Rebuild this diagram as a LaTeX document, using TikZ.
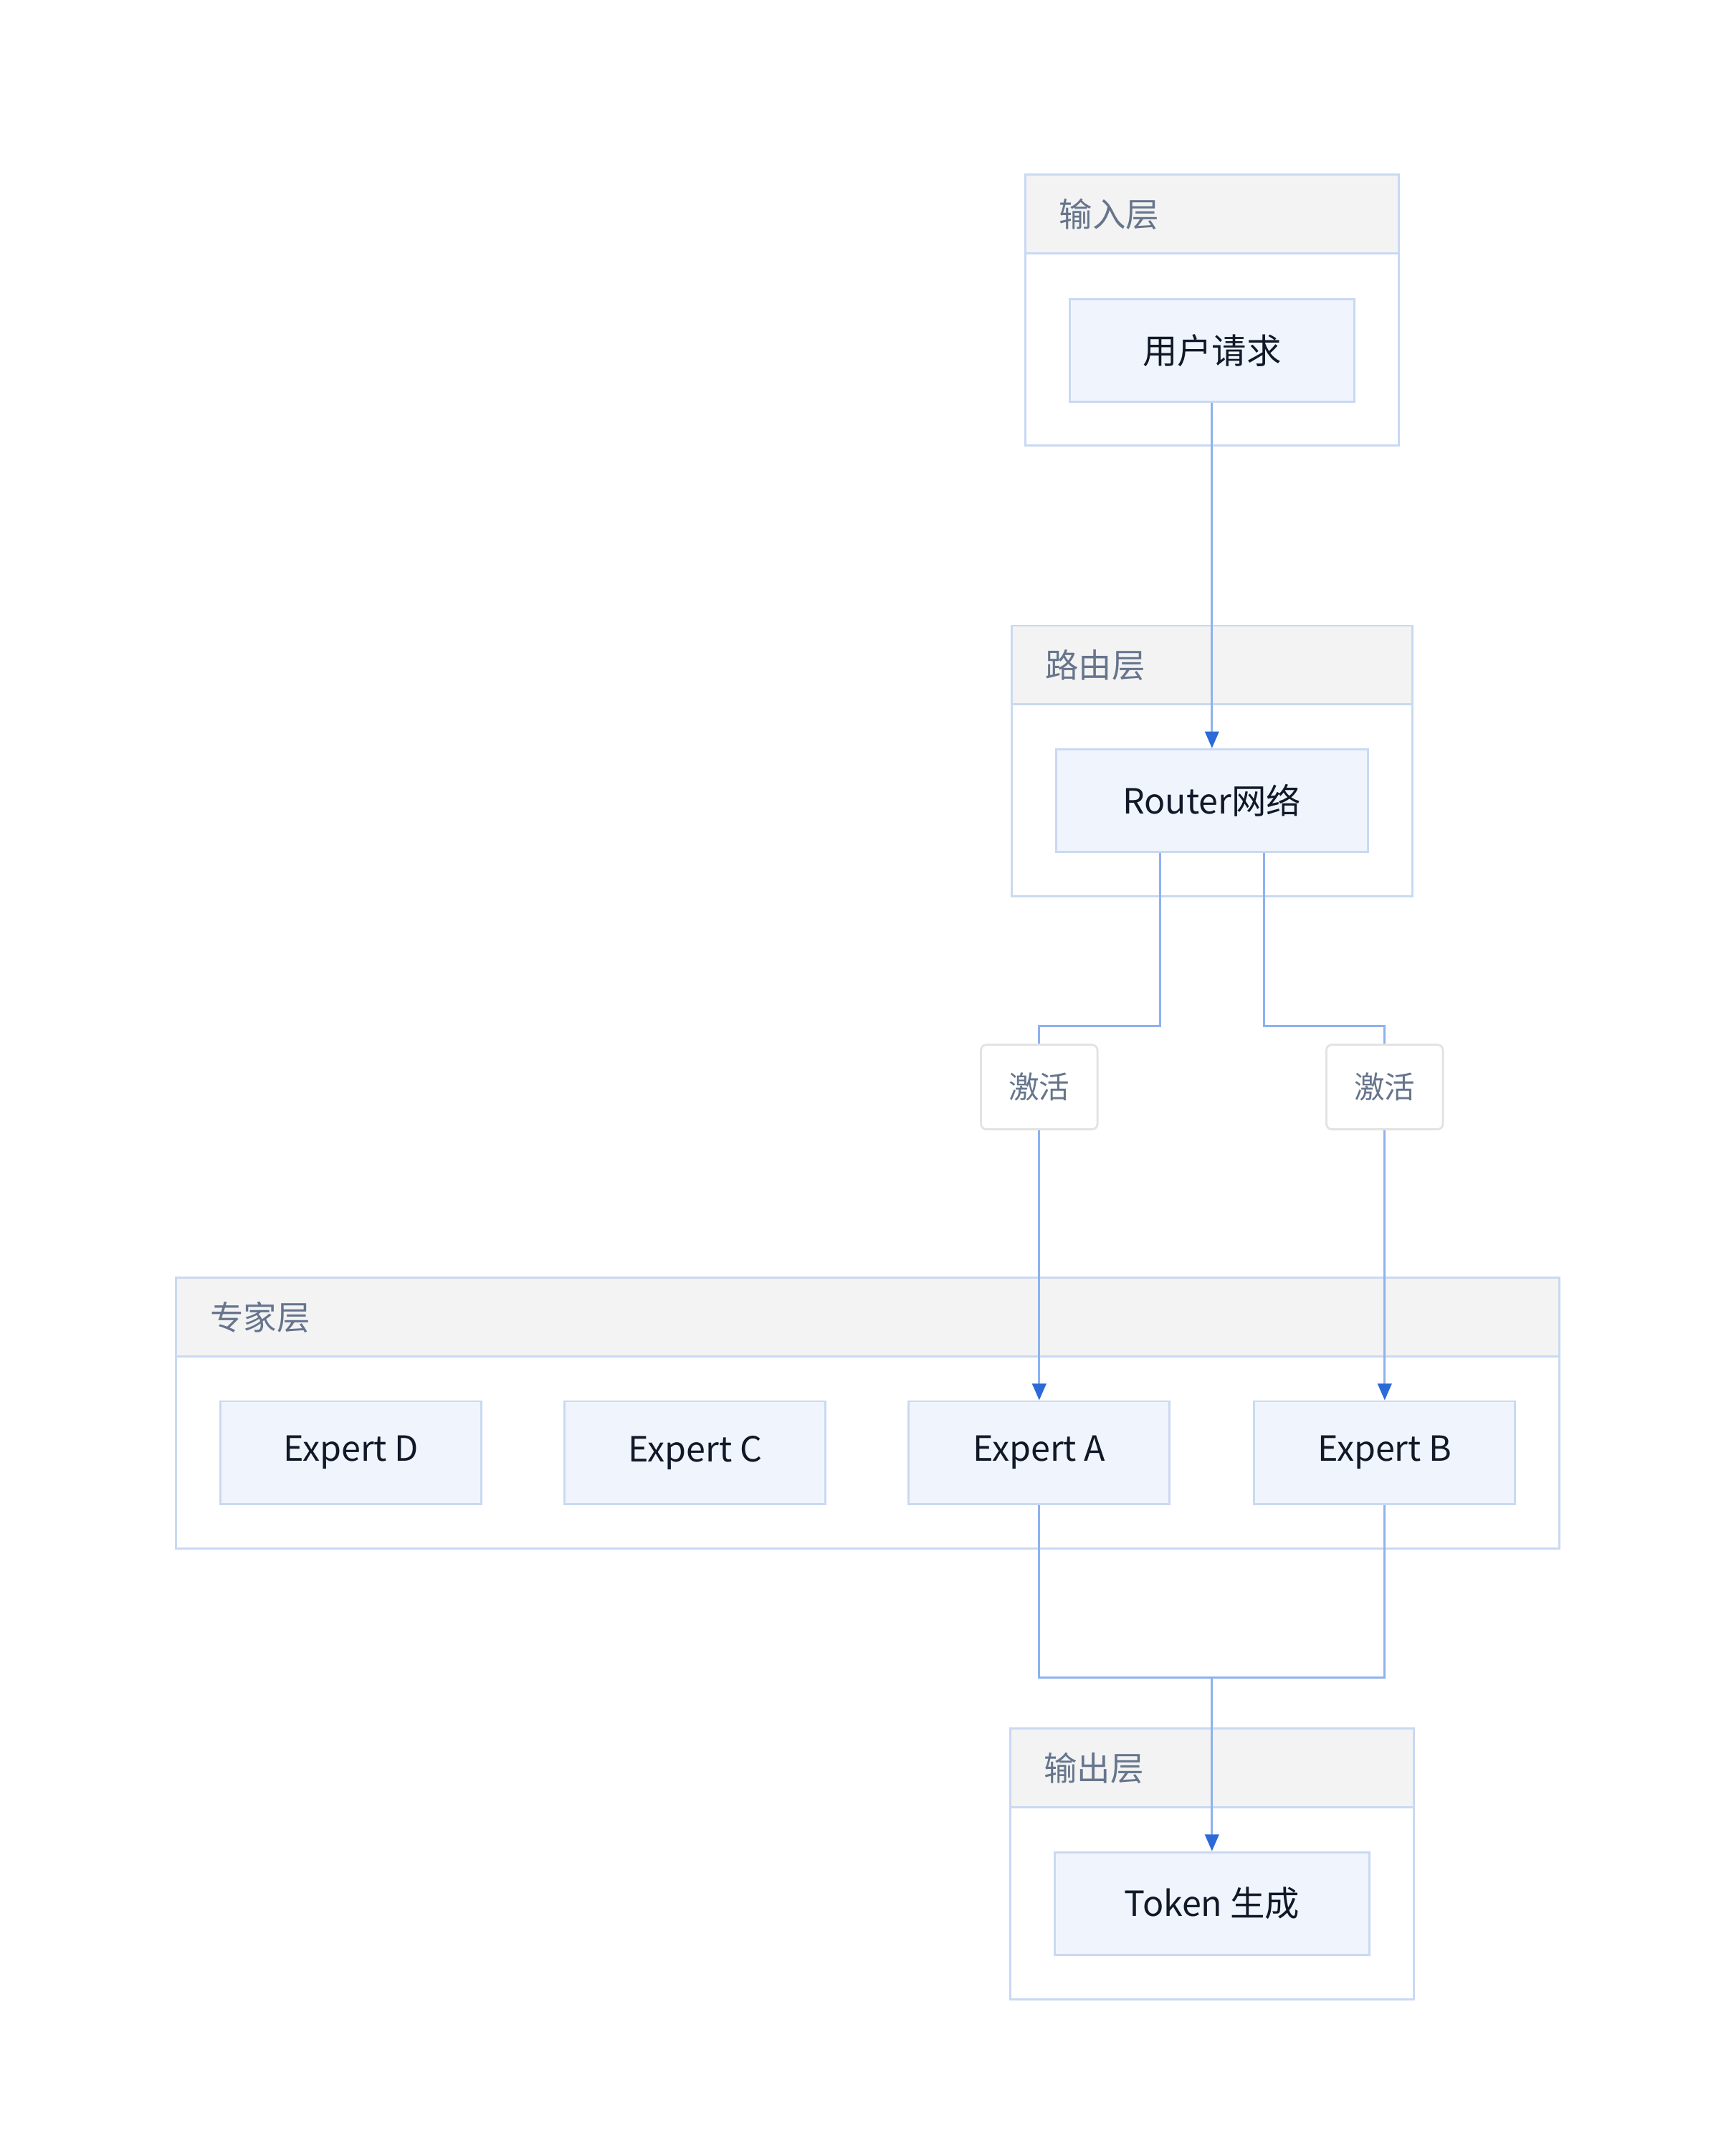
\documentclass[tikz,border=0pt]{standalone}
\usepackage{fontspec}
\setmainfont{Noto Sans CJK SC}
\usetikzlibrary{arrows.meta,positioning}
\definecolor{layerline}{HTML}{C9D9F2}
\definecolor{headfill}{HTML}{F3F3F3}
\definecolor{boxfill}{HTML}{F0F5FD}
\definecolor{boxtext}{HTML}{111827}
\definecolor{headtext}{HTML}{66758C}
\definecolor{edgeblue}{HTML}{8DB2EE}
\definecolor{tipblue}{HTML}{2D6AD9}
\definecolor{labelline}{HTML}{E3E3E3}
\begin{document}
\begin{tikzpicture}[x=1pt, y=-1pt,
    layer/.style = {draw=layerline, line width=1.5pt, minimum height=195pt, inner sep=0pt},
    layerhead/.style = {draw=layerline, fill=headfill, line width=1.5pt, minimum height=56.5pt, inner sep=0pt},
    layertitle/.style = {text=headtext, font=\fontsize{24}{28}\selectfont, inner sep=0pt},
    box/.style = {draw=layerline, fill=boxfill, line width=1.5pt, minimum height=74pt, inner sep=0pt,
        text=boxtext, font=\fontsize{25}{30}\selectfont},
    actlabel/.style = {draw=labelline, fill=white, line width=1.5pt, rounded corners=4pt,
        minimum width=84pt, minimum height=61pt, inner sep=0pt,
        text=headtext, font=\fontsize{22}{26}\selectfont},
    flow/.style = {draw=edgeblue, line width=1.5pt},
    flowarrow/.style = {flow, -{Triangle[length=12pt, width=10pt, color=tipblue]}}
    ]
    \useasboundingbox (0,0) rectangle (1240,1554);

    % layers
    \foreach \n/\cx/\cy/\w/\t in {inL/873.5/223.5/269/输入层, rtL/873.5/548.5/289/路由层,
            exL/625.5/1018.5/997/专家层, outL/873.5/1343.5/291/输出层} {
        \node[layer, minimum width=\w pt] (\n) at (\cx,\cy) {};
        \node[layerhead, minimum width=\w pt, anchor=north west] (\n H) at (\n.north west) {};
        \node[layertitle, anchor=west] (\n T) at ([xshift=25pt]\n H.west) {\t};
    }

    % nodes
    \node[box, minimum width=205pt] (req) at (873.5,252.5) {用户请求};
    \node[box, minimum width=225pt] (router) at (873.5,577) {Router网络};
    \foreach \n/\cx in {D/253, C/501, A/749, B/998}
        \node[box, minimum width=188pt] (exp\n) at (\cx,1047) {Expert \n};
    \node[box, minimum width=227pt] (token) at (873.5,1372) {Token 生成};

    \node[actlabel] (actA) at (749,783.5) {激活};
    \node[actlabel] (actB) at (998,783.5) {激活};

    \coordinate (merge) at (873.5,1209);

    % edges
    \draw[flowarrow] (req) -- (router);
    \draw[flow] ([xshift=-37.5pt]router.south) |- ++(0,125) -| (actA.north);
    \draw[flow] ([xshift=37.5pt]router.south) |- ++(0,125) -| (actB.north);
    \draw[flowarrow] (actA) -- (expA);
    \draw[flowarrow] (actB) -- (expB);
    \draw[flow] (expA.south) |- (merge);
    \draw[flow] (expB.south) |- (merge);
    \draw[flowarrow] (merge) -- (token);
\end{tikzpicture}
\end{document}
